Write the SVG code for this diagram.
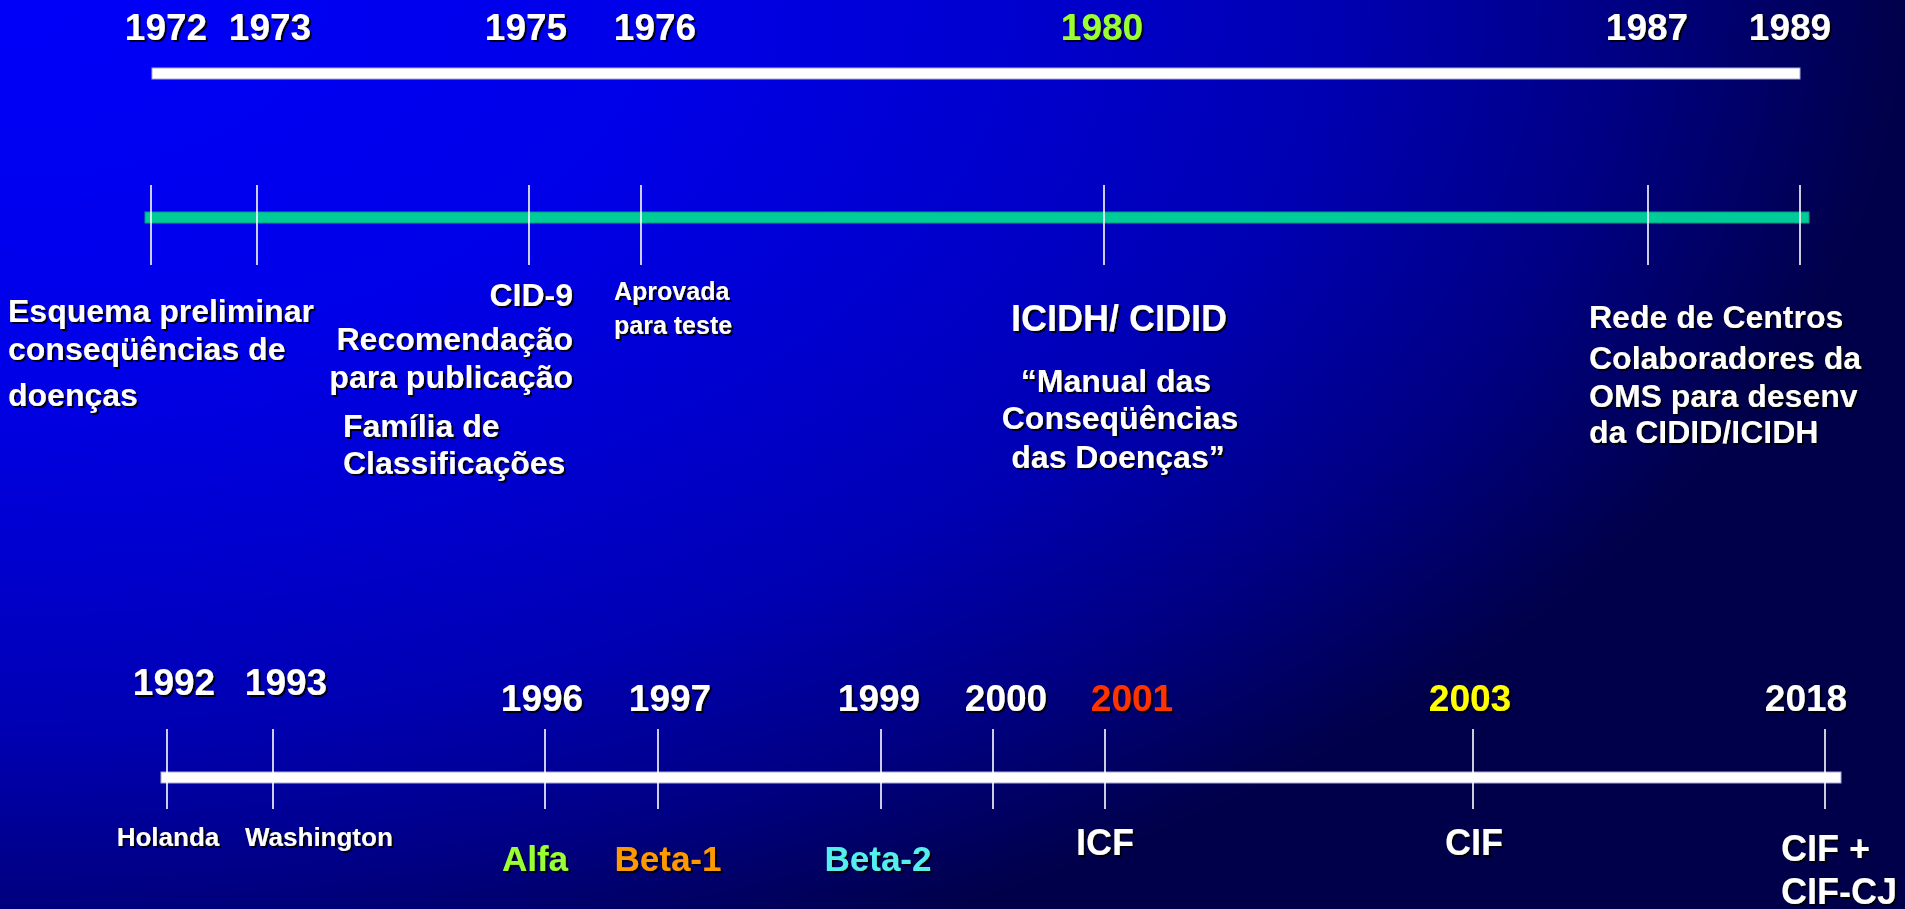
<svg xmlns="http://www.w3.org/2000/svg" width="1905" height="909" viewBox="0 0 1905 909">
<defs>
<radialGradient id="bg" gradientUnits="userSpaceOnUse" cx="0" cy="0" r="1905" gradientTransform="scale(1,0.55)">
<stop offset="0" stop-color="#0000FA"/>
<stop offset="0.35" stop-color="#0000E8"/>
<stop offset="0.55" stop-color="#0000CC"/>
<stop offset="0.7" stop-color="#0000B2"/>
<stop offset="0.85" stop-color="#000084"/>
<stop offset="1" stop-color="#00004A"/>
</radialGradient>
<filter id="sh" x="-10%" y="-20%" width="130%" height="150%">
<feDropShadow dx="2" dy="2" stdDeviation="0.6" flood-color="#000000" flood-opacity="0.9"/>
</filter>
</defs>
<style>
text{font-family:"Liberation Sans",Arial,Helvetica,sans-serif;font-weight:bold;fill:#FFFFFF;filter:url(#sh)}
.yr{font-size:37px;text-anchor:middle}
.lb{font-size:32px}
.sm{font-size:25px}
.xs{font-size:26px}
.md{font-size:35px}
.mid{text-anchor:middle}
.end{text-anchor:end}
.tick{stroke:#FFFFFF;stroke-width:1.6}
.wbar{fill:#FFFFFF;stroke:#A9A9D8;stroke-width:1}
.gbar{fill:#00CC99;stroke:#009A80;stroke-width:1}
</style>
<rect x="0" y="0" width="1905" height="909" fill="url(#bg)"/>
<g id="connectors">
<rect class="wbar" x="152" y="68" width="1648" height="11"/>
<rect class="gbar" x="145" y="212" width="1664" height="11"/>
<rect class="wbar" x="161" y="772" width="1680" height="11"/>
</g>
<g id="n1972">
<text class="yr" x="166" y="40">1972</text>
<line class="tick" x1="151" y1="185" x2="151" y2="265"/>
<text class="lb" x="8" y="322">Esquema preliminar</text>
<text class="lb" x="8" y="360">conseqüências de</text>
<text class="lb" x="8" y="406">doenças</text>
</g>
<g id="n1973">
<text class="yr" x="270" y="40">1973</text>
<line class="tick" x1="257" y1="185" x2="257" y2="265"/>
</g>
<g id="n1975">
<text class="yr" x="526" y="40">1975</text>
<line class="tick" x1="529" y1="185" x2="529" y2="265"/>
<text class="lb end" x="573" y="306">CID-9</text>
<text class="lb end" x="573" y="350">Recomendação</text>
<text class="lb end" x="573" y="388">para publicação</text>
<text class="lb" x="343" y="437">Família de</text>
<text class="lb" x="343" y="474">Classificações</text>
</g>
<g id="n1976">
<text class="yr" x="655" y="40">1976</text>
<line class="tick" x1="641" y1="185" x2="641" y2="265"/>
<text class="sm" x="614" y="300">Aprovada</text>
<text class="sm" x="614" y="334">para teste</text>
</g>
<g id="n1980">
<text class="yr" x="1102" y="40" style="fill:#99FF33">1980</text>
<line class="tick" x1="1104" y1="185" x2="1104" y2="265"/>
<text class="mid" x="1119" y="331" style="font-size:36px">ICIDH/ CIDID</text>
<text class="lb mid" x="1116" y="392">“Manual das</text>
<text class="lb mid" x="1120" y="429">Conseqüências</text>
<text class="lb mid" x="1118" y="468">das Doenças”</text>
</g>
<g id="n1987">
<text class="yr" x="1647" y="40">1987</text>
<line class="tick" x1="1648" y1="185" x2="1648" y2="265"/>
<text class="lb" x="1589" y="328">Rede de Centros</text>
<text class="lb" x="1589" y="369">Colaboradores da</text>
<text class="lb" x="1589" y="407">OMS para desenv</text>
<text class="lb" x="1589" y="443">da CIDID/ICIDH</text>
</g>
<g id="n1989">
<text class="yr" x="1790" y="40">1989</text>
<line class="tick" x1="1800" y1="185" x2="1800" y2="265"/>
</g>
<g id="n1992">
<text class="yr" x="174" y="695">1992</text>
<line class="tick" x1="167" y1="729" x2="167" y2="809"/>
<text class="xs mid" x="168" y="846">Holanda</text>
</g>
<g id="n1993">
<text class="yr" x="286" y="695">1993</text>
<line class="tick" x1="273" y1="729" x2="273" y2="809"/>
<text class="xs" x="245" y="846">Washington</text>
</g>
<g id="n1996">
<text class="yr" x="542" y="711">1996</text>
<line class="tick" x1="545" y1="729" x2="545" y2="809"/>
<text class="md mid" x="535" y="871" style="fill:#99FF33">Alfa</text>
</g>
<g id="n1997">
<text class="yr" x="670" y="711">1997</text>
<line class="tick" x1="658" y1="729" x2="658" y2="809"/>
<text class="md mid" x="668" y="871" style="fill:#FF9900">Beta-1</text>
</g>
<g id="n1999">
<text class="yr" x="879" y="711">1999</text>
<line class="tick" x1="881" y1="729" x2="881" y2="809"/>
<text class="md mid" x="878" y="871" style="fill:#55EEEE">Beta-2</text>
</g>
<g id="n2000">
<text class="yr" x="1006" y="711">2000</text>
<line class="tick" x1="993" y1="729" x2="993" y2="809"/>
</g>
<g id="n2001">
<text class="yr" x="1132" y="711" style="fill:#FF3300">2001</text>
<line class="tick" x1="1105" y1="729" x2="1105" y2="809"/>
<text class="mid" x="1105" y="855" style="font-size:36px">ICF</text>
</g>
<g id="n2003">
<text class="yr" x="1470" y="711" style="fill:#FFFF00">2003</text>
<line class="tick" x1="1473" y1="729" x2="1473" y2="809"/>
<text class="mid" x="1474" y="855" style="font-size:36px">CIF</text>
</g>
<g id="n2018">
<text class="yr" x="1806" y="711">2018</text>
<line class="tick" x1="1825" y1="729" x2="1825" y2="809"/>
<text x="1781" y="861" style="font-size:36px">CIF +</text>
<text x="1781" y="904" style="font-size:36px">CIF-CJ</text>
</g>
</svg>
